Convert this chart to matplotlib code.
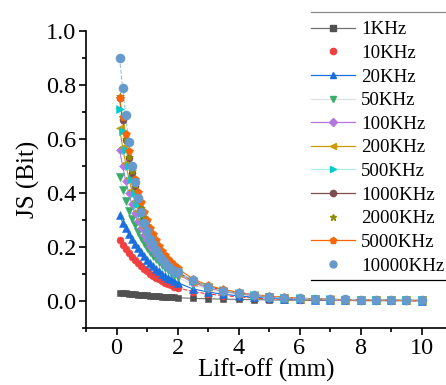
"""
JS divergence vs lift-off for several excitation frequencies
"""
import matplotlib
matplotlib.use('Agg')
import matplotlib.pyplot as plt
from matplotlib.lines import Line2D
from matplotlib.ticker import MultipleLocator

plt.rcParams['font.family'] = ['Liberation Serif', 'DejaVu Serif']
plt.rcParams['mathtext.fontset'] = 'stix'

# lift-off positions (mm)
lift_off = [0.1, 0.2, 0.3, 0.4, 0.5, 0.6, 0.7, 0.8, 0.9, 1.0,
            1.1, 1.2, 1.3, 1.4, 1.5, 1.6, 1.7, 1.8, 1.9, 2.0,
            2.5, 3.0, 3.5, 4.0, 4.5, 5.0, 5.5, 6.0, 6.5, 7.0,
            7.5, 8.0, 8.5, 9.0, 9.5, 10.0]

freq_labels = ['1KHz', '10KHz', '20KHz', '50KHz', '100KHz', '200KHz',
               '500KHz', '1000KHz', '2000KHz', '5000KHz', '10000KHz']

js_1k = [0.030, 0.029, 0.028, 0.027, 0.026, 0.025, 0.024, 0.023, 0.022, 0.021,
         0.020, 0.019, 0.018, 0.017, 0.016, 0.015, 0.015, 0.014, 0.013, 0.012,
         0.010, 0.008, 0.007, 0.006, 0.005, 0.004, 0.003, 0.003, 0.002, 0.002,
         0.002, 0.001, 0.001, 0.001, 0.001, 0.001]
js_10k = [0.226, 0.209, 0.193, 0.178, 0.164, 0.151, 0.140, 0.129, 0.119, 0.110,
          0.101, 0.094, 0.087, 0.080, 0.074, 0.068, 0.063, 0.058, 0.053, 0.049,
          0.035, 0.026, 0.020, 0.015, 0.011, 0.008, 0.006, 0.005, 0.004, 0.003,
          0.003, 0.002, 0.002, 0.002, 0.001, 0.001]
js_20k = [0.320, 0.290, 0.270, 0.250, 0.230, 0.210, 0.195, 0.180, 0.165, 0.152,
          0.140, 0.130, 0.120, 0.110, 0.100, 0.094, 0.087, 0.080, 0.074, 0.068,
          0.045, 0.033, 0.025, 0.019, 0.014, 0.011, 0.008, 0.006, 0.005, 0.004,
          0.003, 0.003, 0.002, 0.002, 0.002, 0.001]
js_50k = [0.460, 0.410, 0.370, 0.335, 0.305, 0.280, 0.255, 0.235, 0.215, 0.198,
          0.182, 0.168, 0.155, 0.143, 0.132, 0.122, 0.113, 0.104, 0.096, 0.088,
          0.060, 0.043, 0.032, 0.024, 0.018, 0.014, 0.010, 0.008, 0.006, 0.005,
          0.004, 0.003, 0.003, 0.002, 0.002, 0.002]
js_100k = [0.560, 0.500, 0.445, 0.400, 0.360, 0.325, 0.295, 0.270, 0.245, 0.225,
           0.205, 0.190, 0.175, 0.160, 0.148, 0.137, 0.127, 0.117, 0.108, 0.100,
           0.068, 0.048, 0.036, 0.027, 0.020, 0.015, 0.011, 0.009, 0.007, 0.005,
           0.004, 0.004, 0.003, 0.003, 0.002, 0.002]
js_200k = [0.640, 0.570, 0.510, 0.455, 0.410, 0.370, 0.335, 0.305, 0.275, 0.250,
           0.228, 0.208, 0.190, 0.174, 0.160, 0.147, 0.135, 0.124, 0.114, 0.105,
           0.072, 0.051, 0.038, 0.028, 0.021, 0.016, 0.012, 0.009, 0.007, 0.006,
           0.005, 0.004, 0.003, 0.003, 0.002, 0.002]
js_500k = [0.710, 0.630, 0.560, 0.500, 0.450, 0.400, 0.360, 0.325, 0.295, 0.265,
           0.240, 0.218, 0.198, 0.180, 0.165, 0.151, 0.138, 0.127, 0.116, 0.107,
           0.074, 0.053, 0.039, 0.029, 0.022, 0.016, 0.012, 0.010, 0.008, 0.006,
           0.005, 0.004, 0.003, 0.003, 0.002, 0.002]
js_1000k = [0.750, 0.670, 0.595, 0.530, 0.475, 0.425, 0.380, 0.340, 0.305, 0.275,
            0.248, 0.224, 0.203, 0.185, 0.168, 0.153, 0.140, 0.128, 0.117, 0.108,
            0.075, 0.054, 0.040, 0.030, 0.022, 0.017, 0.013, 0.010, 0.008, 0.006,
            0.005, 0.004, 0.003, 0.003, 0.002, 0.002]
js_2000k = [0.760, 0.680, 0.600, 0.535, 0.480, 0.430, 0.385, 0.345, 0.310, 0.280,
            0.252, 0.228, 0.207, 0.188, 0.171, 0.156, 0.143, 0.131, 0.120, 0.110,
            0.076, 0.055, 0.041, 0.030, 0.023, 0.017, 0.013, 0.010, 0.008, 0.006,
            0.005, 0.004, 0.003, 0.003, 0.002, 0.002]
js_5000k = [0.750, 0.680, 0.620, 0.555, 0.500, 0.450, 0.405, 0.365, 0.330, 0.300,
            0.272, 0.247, 0.225, 0.205, 0.187, 0.171, 0.157, 0.144, 0.132, 0.121,
            0.082, 0.058, 0.043, 0.032, 0.024, 0.018, 0.014, 0.011, 0.008, 0.006,
            0.005, 0.004, 0.003, 0.003, 0.002, 0.002]
js_10000k = [0.900, 0.790, 0.690, 0.590, 0.500, 0.440, 0.380, 0.330, 0.290, 0.260,
             0.230, 0.210, 0.190, 0.170, 0.155, 0.140, 0.130, 0.120, 0.112, 0.106,
             0.076, 0.053, 0.038, 0.030, 0.022, 0.016, 0.012, 0.010, 0.008, 0.007,
             0.006, 0.005, 0.005, 0.004, 0.004, 0.004]

all_series = [js_1k, js_10k, js_20k, js_50k, js_100k, js_200k,
              js_500k, js_1000k, js_2000k, js_5000k, js_10000k]

# (marker colour, marker, marker size, line colour, line style)
styles = [
    ('#515151', 's', 5.0, '#707070', '-'),
    ('#F14040', 'o', 5.0, '#F14040', '--'),
    ('#1A6FDF', '^', 5.5, '#1A6FDF', '-'),
    ('#37AD6B', 'v', 5.5, '#d8e2de', '-'),
    ('#B177DE', 'D', 4.5, '#B177DE', '-'),
    ('#CC9900', '<', 5.5, '#CC9900', '-'),
    ('#00CBCC', '>', 5.5, '#a8ecec', '-'),
    ('#7D4E4E', 'o', 5.0, '#7D4E4E', '-'),
    ('#8E8E00', '*', 6.0, '#8E8E00', 'none'),
    ('#FB6501', 'p', 6.0, '#FB6501', '-'),
    ('#6699CC', 'o', 6.5, '#9fc0e0', '--'),
]
# series whose legend entry shows only the marker
marker_only = {'10KHz', '2000KHz', '10000KHz'}

fig = plt.figure(figsize=(4.46, 3.85), dpi=100)
ax = fig.add_axes([86 / 446, 1 - 328 / 385, 1 - 86 / 446, (328 - 31) / 385])

handles = []
for label, ys, (mc, mk, ms, lc, ls) in zip(freq_labels, all_series, styles):
    if ls != 'none':
        ax.plot(lift_off, ys, color=lc, linestyle=ls, linewidth=0.8, zorder=2)
    ax.plot(lift_off, ys, linestyle='none', marker=mk, markersize=ms,
            markerfacecolor=mc, markeredgecolor=mc, markeredgewidth=0.4, zorder=3)
    leg_ms = min(ms - 0.5, 5.0)
    if label in marker_only or ls == 'none':
        h = Line2D([], [], linestyle='none', marker=mk, markersize=leg_ms,
                   markerfacecolor=mc, markeredgecolor=mc)
    else:
        h = Line2D([], [], color=lc, linestyle='-', linewidth=0.9, marker=mk,
                   markersize=leg_ms, markerfacecolor=mc, markeredgecolor=mc)
    handles.append(h)

ax.set_xlim(-1.0, 10.8)
ax.set_ylim(-0.1, 1.0)
ax.xaxis.set_major_locator(MultipleLocator(2))
ax.xaxis.set_minor_locator(MultipleLocator(1))
ax.yaxis.set_major_locator(MultipleLocator(0.2))
ax.yaxis.set_minor_locator(MultipleLocator(0.1))
ax.yaxis.set_major_formatter(plt.FuncFormatter(lambda v, p: f'{v:.1f}'))
ax.tick_params(which='both', direction='out', labelsize=17.5, width=1.2, pad=2)
ax.tick_params(which='major', length=5)
ax.tick_params(which='minor', length=3)
ax.spines['top'].set_visible(False)
ax.spines['right'].set_visible(False)
ax.spines['left'].set_linewidth(1.2)
ax.spines['bottom'].set_linewidth(1.2)
ax.set_xlabel('Lift-off (mm)', fontsize=18, labelpad=0)
ax.set_ylabel('JS (Bit)', fontsize=18, labelpad=4)

leg = fig.legend(handles, freq_labels, loc='upper left',
                 bbox_to_anchor=(311 / 446, 1 - 21 / 385),
                 frameon=False, fontsize=13.6, handlelength=2.35,
                 handletextpad=0.3, labelspacing=0.34, borderpad=0,
                 borderaxespad=0)

# horizontal rules above and below the legend
fig.add_artist(Line2D([311 / 446, 1.0], [1 - 12 / 385, 1 - 12 / 385],
                      color='#8a8a8a', linewidth=0.9, transform=fig.transFigure))
fig.add_artist(Line2D([311 / 446, 1.0], [1 - 280 / 385, 1 - 280 / 385],
                      color='black', linewidth=0.9, transform=fig.transFigure))

fig.savefig('out.png', dpi=100)
